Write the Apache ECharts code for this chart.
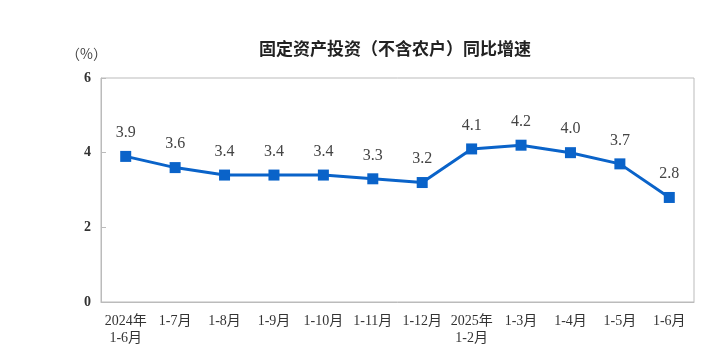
<!DOCTYPE html>
<html><head><meta charset="utf-8">
<script src="https://cdn.jsdelivr.net/npm/echarts@6/dist/echarts.min.js"></script>
<style>html,body{margin:0;padding:0;background:#fff}#c{width:724px;height:354px}</style>
</head><body><div id="c"></div>
<script>
const categories = ['2024年\n1-6月','1-7月','1-8月','1-9月','1-10月','1-11月','1-12月','2025年\n1-2月','1-3月','1-4月','1-5月','1-6月'];
const growth = [3.9,3.6,3.4,3.4,3.4,3.3,3.2,4.1,4.2,4.0,3.7,2.8];
const yTicks = [0,2,4,6];
const title = '固定资产投资（不含农户）同比增速';
const unit = '（%）';

const chart = echarts.init(document.getElementById('c'), null, {renderer:'canvas'});
chart.setOption({
  animation:false,
  backgroundColor:'#fff',
  title:{text:title,left:390,top:35,textAlign:'center',
    textStyle:{fontFamily:'Noto Sans CJK SC',fontSize:17,fontWeight:'bold',color:'#222'}},
  graphic:[{type:'text',left:66,top:47,style:{text:unit,font:'14px "Noto Sans CJK SC"',fill:'#444'}}],
  grid:{left:101,right:30,top:78,bottom:52,show:true,borderColor:'#bbb',borderWidth:1},
  xAxis:{type:'category',data:categories,boundaryGap:true,
    axisLine:{lineStyle:{color:'#bbb'}},
    axisTick:{inside:true,length:5,lineStyle:{color:'#bbb'}},
    axisLabel:{interval:0,color:'#333',fontFamily:'Liberation Serif, Noto Sans CJK SC',fontSize:14,margin:11,lineHeight:17}},
  yAxis:{type:'value',min:0,max:6,interval:2,
    axisLine:{show:true,lineStyle:{color:'#bbb'}},
    axisTick:{show:true,inside:true,length:5,lineStyle:{color:'#bbb'}},
    splitLine:{show:false},
    axisLabel:{color:'#333',fontFamily:'Liberation Serif',fontSize:14,fontWeight:'bold',margin:10,
      formatter:v=>yTicks.includes(v)?String(v):''}},
  series:[{type:'line',data:growth,symbol:'rect',symbolSize:11,
    lineStyle:{color:'#0a63c9',width:3},itemStyle:{color:'#0a63c9'},
    label:{show:true,position:'top',distance:10,color:'#444',fontFamily:'Liberation Serif',fontSize:16,
      formatter:p=>p.value.toFixed(1)}}]
});
</script></body></html>
